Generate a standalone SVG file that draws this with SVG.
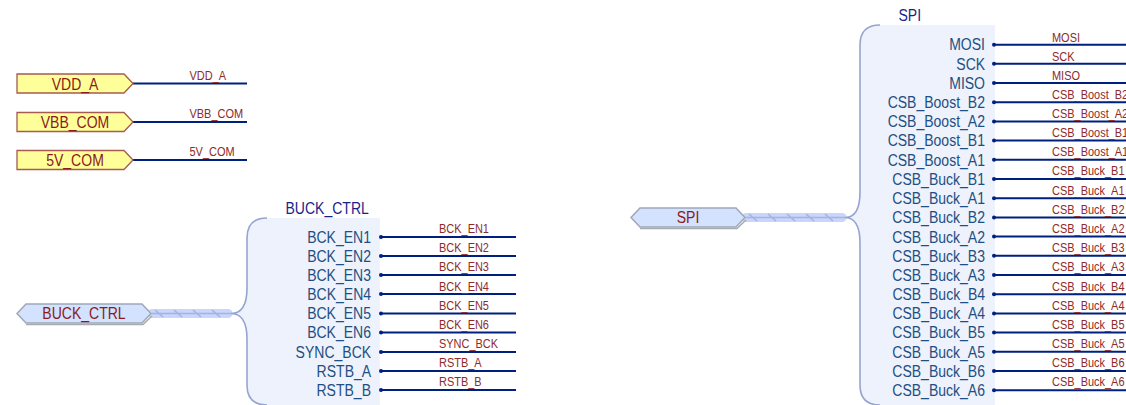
<svg xmlns="http://www.w3.org/2000/svg" width="1126" height="405" viewBox="0 0 1126 405">
<style>
text{font-family:"Liberation Sans",Arial,sans-serif;transform-box:fill-box}
.flag{fill:#ffff99;stroke:#a65a50;stroke-width:1.3}
.flagt{font-size:16.500px;fill:#8b1a1a;text-anchor:middle;transform-origin:50% 50%;transform:scaleX(.85)}
.hub{fill:#d2e2ff;stroke:#a0a8b8;stroke-width:1.5}
.shadow{fill:none;stroke:#a8acb0;stroke-width:1.5}
.wire{stroke:#00207f;stroke-width:2;fill:none}
.net{font-size:13px;fill:#8f2a2a;transform-origin:0 50%;transform:scaleX(.845)}
.pin{font-size:16.500px;fill:#1f4f82;text-anchor:end;transform-origin:100% 50%;transform:scaleX(.85)}
.title{font-size:16.500px;fill:#1a1f8c;transform-origin:0 50%;transform:scaleX(.85)}
.dot{fill:#00207f}
.body{fill:#edf2fc}
.edge{fill:none;stroke:#95a5d0;stroke-width:1.6}
.bus{stroke:#c8d6fb;stroke-width:9;stroke-linecap:round;fill:none}
.busl{stroke:#a3b3e3;stroke-width:1.6;fill:none}
</style>
<g id="connectors">
<path class="wire" d="M133 83.500H247M133 122H247M133 160H247"/>
<g id="bus-buck"><path class="bus" d="M152 313.500H228"/><path class="busl" d="M152 313.500H231M155 310l8 7M174 310l8 7M193 310l8 7M212 310l8 7"/></g>
<g id="bus-spi"><path class="bus" d="M746 217.500H842"/><path class="busl" d="M746 217.500H845M749 214l8 7M768 214l8 7M787 214l8 7M806 214l8 7M825 214l8 7"/></g>
<path class="wire" d="M380 237H516M380 256H516M380 275H516M380 294H516M380 313.500H516M380 332.500H516M380 352H516M380 371H516M380 390H516"/>
<path class="wire" d="M994 44.700H1126M994 63.800H1126M994 83H1126M994 102.200H1126M994 121.500H1126M994 140.600H1126M994 159.800H1126M994 179H1126M994 198.200H1126M994 217.400H1126M994 236.600H1126M994 255.800H1126M994 275H1126M994 294.200H1126M994 313.400H1126M994 332.600H1126M994 351.800H1126M994 371H1126M994 390.200H1126"/>
</g>
<g id="VDD_A"><path class="flag" d="M17 74H124L133 83.500L124 93H17Z"/><text class="flagt" x="75" y="90">VDD_A</text><text class="net" x="189.500" y="80.500">VDD_A</text></g>
<g id="VBB_COM"><path class="flag" d="M17 112.500H124L133 122L124 131.500H17Z"/><text class="flagt" x="75" y="128">VBB_COM</text><text class="net" x="189.500" y="118.500">VBB_COM</text></g>
<g id="5V_COM"><path class="flag" d="M17 150.500H124L133 160L124 169.500H17Z"/><text class="flagt" x="75" y="166">5V_COM</text><text class="net" x="189.500" y="156.500">5V_COM</text></g>
<g id="hub-BUCK_CTRL"><path class="shadow" d="M26 324.500H143L152 316"/><path class="hub" d="M17 313.500L26 304H142L151 313.500L142 323H26Z"/><text class="flagt" x="84" y="319.500">BUCK_CTRL</text></g>
<g id="hub-SPI"><path class="shadow" d="M640 228.500H737L746 220"/><path class="hub" d="M631 217.500L640 208H736L745 217.500L736 227H640Z"/><text class="flagt" x="688" y="223.500">SPI</text></g>
<g id="BUCK_CTRL">
<path class="body" d="M267 218H380V405H267Q247 405 247 385V333Q247 313.500 231 313.500Q247 313.500 247 294V238Q247 218 267 218Z"/>
<path class="edge" d="M267 218Q247 218 247 238V288Q247 313.500 231 313.500Q247 313.500 247 339V385Q247 405 267 405"/>
<text class="title" x="285.500" y="214">BUCK_CTRL</text>
<g id="buck-pins">
<circle class="dot" cx="381" cy="237" r="2"/><text class="pin" x="371" y="243">BCK_EN1</text><text class="net" x="439" y="233.500">BCK_EN1</text>
<circle class="dot" cx="381" cy="256" r="2"/><text class="pin" x="371" y="262">BCK_EN2</text><text class="net" x="439" y="252.500">BCK_EN2</text>
<circle class="dot" cx="381" cy="275" r="2"/><text class="pin" x="371" y="281">BCK_EN3</text><text class="net" x="439" y="271.500">BCK_EN3</text>
<circle class="dot" cx="381" cy="294" r="2"/><text class="pin" x="371" y="300">BCK_EN4</text><text class="net" x="439" y="291">BCK_EN4</text>
<circle class="dot" cx="381" cy="313.500" r="2"/><text class="pin" x="371" y="319.500">BCK_EN5</text><text class="net" x="439" y="310">BCK_EN5</text>
<circle class="dot" cx="381" cy="332.500" r="2"/><text class="pin" x="371" y="338.500">BCK_EN6</text><text class="net" x="439" y="329.500">BCK_EN6</text>
<circle class="dot" cx="381" cy="352" r="2"/><text class="pin" x="371" y="358">SYNC_BCK</text><text class="net" x="439" y="348.500">SYNC_BCK</text>
<circle class="dot" cx="381" cy="371" r="2"/><text class="pin" x="371" y="377">RSTB_A</text><text class="net" x="439" y="367.500">RSTB_A</text>
<circle class="dot" cx="381" cy="390" r="2"/><text class="pin" x="371" y="396">RSTB_B</text><text class="net" x="439" y="386.500">RSTB_B</text>
</g>
</g>
<g id="SPI">
<path class="body" d="M880 25H995V405H880Q860 405 860 385V238Q860 217.500 845 217.500Q860 217.500 860 197V45Q860 25 880 25Z"/>
<path class="edge" d="M880 25Q860 25 860 45V192Q860 217.500 845 217.500Q860 217.500 860 243V385Q860 405 880 405"/>
<text class="title" x="898.500" y="21">SPI</text>
<g id="spi-pins">
<circle class="dot" cx="994" cy="44.700" r="2"/><text class="pin" x="985" y="50.500">MOSI</text><text class="net" x="1052" y="42">MOSI</text>
<circle class="dot" cx="994" cy="63.800" r="2"/><text class="pin" x="985" y="70">SCK</text><text class="net" x="1052" y="61">SCK</text>
<circle class="dot" cx="994" cy="83" r="2"/><text class="pin" x="985" y="89.500">MISO</text><text class="net" x="1052" y="80.500">MISO</text>
<circle class="dot" cx="994" cy="102.200" r="2"/><text class="pin" x="985" y="108.500">CSB_Boost_B2</text><text class="net" x="1052" y="99.500">CSB_Boost_B2</text>
<circle class="dot" cx="994" cy="121.500" r="2"/><text class="pin" x="985" y="127.500">CSB_Boost_A2</text><text class="net" x="1052" y="118.500">CSB_Boost_A2</text>
<circle class="dot" cx="994" cy="140.600" r="2"/><text class="pin" x="985" y="146.500">CSB_Boost_B1</text><text class="net" x="1052" y="137.500">CSB_Boost_B1</text>
<circle class="dot" cx="994" cy="159.800" r="2"/><text class="pin" x="985" y="166">CSB_Boost_A1</text><text class="net" x="1052" y="156.500">CSB_Boost_A1</text>
<circle class="dot" cx="994" cy="179" r="2"/><text class="pin" x="985" y="185">CSB_Buck_B1</text><text class="net" x="1052" y="175.500">CSB_Buck_B1</text>
<circle class="dot" cx="994" cy="198.200" r="2"/><text class="pin" x="985" y="204.500">CSB_Buck_A1</text><text class="net" x="1052" y="195.500">CSB_Buck_A1</text>
<circle class="dot" cx="994" cy="217.400" r="2"/><text class="pin" x="985" y="223.500">CSB_Buck_B2</text><text class="net" x="1052" y="214.500">CSB_Buck_B2</text>
<circle class="dot" cx="994" cy="236.600" r="2"/><text class="pin" x="985" y="243">CSB_Buck_A2</text><text class="net" x="1052" y="233.500">CSB_Buck_A2</text>
<circle class="dot" cx="994" cy="255.800" r="2"/><text class="pin" x="985" y="262">CSB_Buck_B3</text><text class="net" x="1052" y="252.500">CSB_Buck_B3</text>
<circle class="dot" cx="994" cy="275" r="2"/><text class="pin" x="985" y="281">CSB_Buck_A3</text><text class="net" x="1052" y="271.500">CSB_Buck_A3</text>
<circle class="dot" cx="994" cy="294.200" r="2"/><text class="pin" x="985" y="300">CSB_Buck_B4</text><text class="net" x="1052" y="291">CSB_Buck_B4</text>
<circle class="dot" cx="994" cy="313.400" r="2"/><text class="pin" x="985" y="319.500">CSB_Buck_A4</text><text class="net" x="1052" y="310">CSB_Buck_A4</text>
<circle class="dot" cx="994" cy="332.600" r="2"/><text class="pin" x="985" y="338.500">CSB_Buck_B5</text><text class="net" x="1052" y="329.500">CSB_Buck_B5</text>
<circle class="dot" cx="994" cy="351.800" r="2"/><text class="pin" x="985" y="358">CSB_Buck_A5</text><text class="net" x="1052" y="348.500">CSB_Buck_A5</text>
<circle class="dot" cx="994" cy="371" r="2"/><text class="pin" x="985" y="377">CSB_Buck_B6</text><text class="net" x="1052" y="367.500">CSB_Buck_B6</text>
<circle class="dot" cx="994" cy="390.200" r="2"/><text class="pin" x="985" y="396">CSB_Buck_A6</text><text class="net" x="1052" y="386.500">CSB_Buck_A6</text>
</g>
</g>
</svg>
